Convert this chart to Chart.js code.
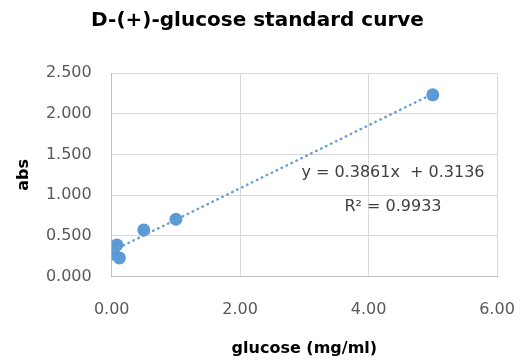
<!DOCTYPE html>
<html><head><meta charset="utf-8">
<script src="https://cdn.jsdelivr.net/npm/chart.js@4/dist/chart.umd.min.js"></script>
<style>html,body{margin:0;padding:0;background:#fff}#wrap{width:521px;height:363px}</style>
</head><body><div id="wrap"><canvas id="c" width="521" height="363"></canvas></div>
<script>
const glucoseX = [0.08, 0.03, 0.12, 0.5, 1.0, 5.0];
const absY = [0.39, 0.28, 0.23, 0.574, 0.705, 2.232];
const trendX = [0.03, 5.0];
const trendY = [0.3252, 2.2441];
const equationText = 'y = 0.3861x  + 0.3136';
const r2Text = 'R² = 0.9933';
const labelPos = [4.38, 1.274, 0.86];
const titleText = 'D-(+)-glucose standard curve';
const xTitle = 'glucose (mg/ml)';
const yTitle = 'abs';

const FONT = "'DejaVu Sans', sans-serif";
const BLUE = '#5B9BD5';

const eqPlugin = {
  id: 'eq',
  afterDatasetsDraw(chart) {
    const {ctx, scales} = chart;
    const x = scales.x.getPixelForValue(labelPos[0]);
    ctx.save();
    ctx.font = '16px ' + FONT;
    ctx.fillStyle = '#404040';
    ctx.textAlign = 'center';
    ctx.textBaseline = 'middle';
    ctx.fillText(equationText, x, scales.y.getPixelForValue(labelPos[1]));
    ctx.fillText(r2Text, x, scales.y.getPixelForValue(labelPos[2]));
    ctx.restore();
  }
};

new Chart(document.getElementById('c'), {
  type: 'scatter',
  data: {
    datasets: [
      {
        type: 'line',
        data: trendX.map((x, i) => ({x, y: trendY[i]})),
        borderColor: '#6A9FD3',
        borderWidth: 2.5,
        borderDash: [0.5, 5],
        borderCapStyle: 'round',
        pointRadius: 0,
        fill: false,
        order: 0
      },
      {
        data: glucoseX.map((x, i) => ({x, y: absY[i]})),
        backgroundColor: BLUE,
        borderColor: BLUE,
        borderWidth: 0,
        pointRadius: 6.5,
        order: 1
      }
    ]
  },
  options: {
    responsive: false,
    animation: false,
    layout: {padding: {top: 0, right: 24, bottom: 0, left: 18}},
    plugins: {
      legend: {display: false},
      tooltip: {enabled: false},
      title: {
        display: true,
        text: titleText,
        color: '#000',
        font: {family: FONT, size: 20, weight: 'bold'},
        padding: {top: 9, bottom: 40}
      }
    },
    scales: {
      x: {
        type: 'linear',
        min: 0, max: 6,
        afterFit(s) { s.height = 86.3; s.paddingLeft = 0; s.paddingRight = 0; },
        ticks: {stepSize: 2, color: '#595959', font: {family: FONT, size: 16}, padding: 24,
          callback: v => Number(v).toFixed(2)},
        grid: {color: '#D9D9D9', drawTicks: false},
        border: {color: '#BFBFBF'},
        title: {display: true, text: xTitle, color: '#000', font: {family: FONT, size: 16, weight: 'bold'},
          padding: {top: 0, bottom: 5}}
      },
      y: {
        min: 0, max: 2.5,
        afterFit(s) { s.width = 93.7; },
        ticks: {stepSize: 0.5, color: '#595959', font: {family: FONT, size: 16}, padding: 20,
          callback: v => Number(v).toFixed(3)},
        grid: {color: '#D9D9D9', drawTicks: false},
        border: {color: '#BFBFBF'},
        title: {display: true, text: yTitle, color: '#000', font: {family: FONT, size: 16, weight: 'bold'},
          padding: {top: -4, bottom: 0}}
      }
    }
  },
  plugins: [eqPlugin]
});
</script></body></html>
